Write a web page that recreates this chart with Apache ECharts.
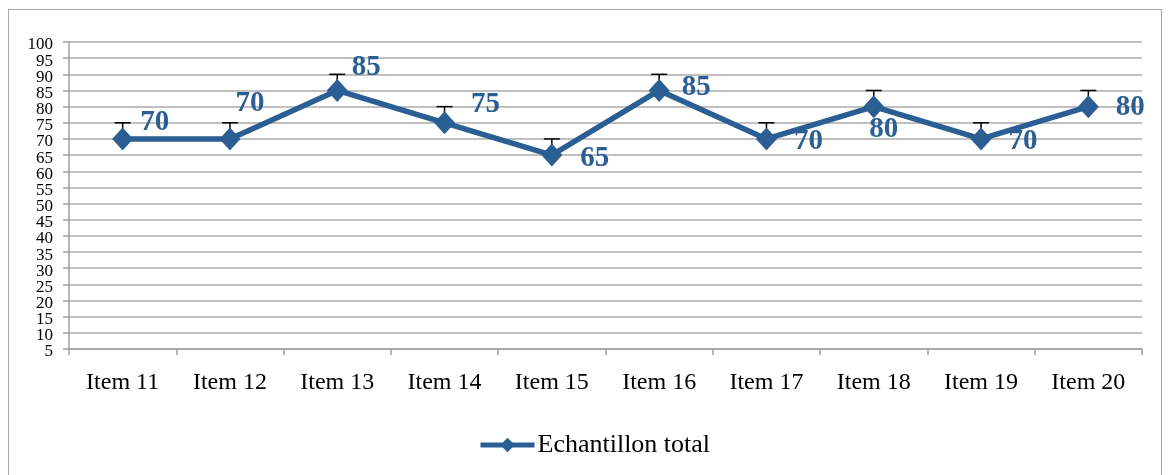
<!DOCTYPE html>
<html>
<head>
<meta charset="utf-8">
<script src="https://cdn.jsdelivr.net/npm/echarts@6/dist/echarts.min.js"></script>
<style>
  html, body { margin: 0; padding: 0; background: #ffffff; }
  #frame { position: absolute; left: 8px; top: 9px; width: 1154px; height: 480px; border: 1.5px solid #a9a9a9; box-sizing: border-box; }
  #chart { position: absolute; left: 0; top: 0; width: 1171px; height: 475px; }
</style>
</head>
<body>
<div id="frame"></div>
<div id="chart"></div>
<script>
// Categories and values
const categories = ['Item 11', 'Item 12', 'Item 13', 'Item 14', 'Item 15', 'Item 16', 'Item 17', 'Item 18', 'Item 19', 'Item 20'];
const totals = [70, 70, 85, 75, 65, 85, 70, 80, 70, 80];
const errorPlus = [5, 5, 5, 5, 5, 5, 5, 5, 5, 5];
const seriesName = 'Echantillon total';

// Value axis range
const yMin = 5;
const yMax = 100;
const yStep = 5;

// Label offsets (pixels from each marker centre)
const labelOffsets = [[32, -16], [20, -35], [29, -23], [41, -18], [43, 3], [37, -3], [42, 3], [10, 23], [42, 3], [42, 1]];

const BLUE = '#2b5e93';
const SERIF = '"Liberation Serif", "DejaVu Serif", serif';
const GRID_GREY = '#a0a0a0';

const chart = echarts.init(document.getElementById('chart'));

const lineData = totals.map((v, i) => ({
  value: v,
  label: {
    show: true,
    position: 'inside',
    offset: labelOffsets[i],
    align: 'center',
    verticalAlign: 'middle'
  }
}));

// The tick labels are packed tightly, so they are split over two
// overlaid value axes (multiples of 10 on one, the rest on the other)
// to keep every label visible.
function makeYAxis(evenTens, primary) {
  return {
    type: 'value',
    position: 'left',
    min: yMin,
    max: yMax,
    interval: yStep,
    axisLine: { show: primary, lineStyle: { color: GRID_GREY, width: 1.5 } },
    axisTick: { show: primary, length: 6, lineStyle: { color: GRID_GREY, width: 1.5 } },
    splitLine: { show: primary, lineStyle: { color: '#ababab', width: 1.5 } },
    axisLabel: {
      fontFamily: SERIF, fontSize: 17, color: '#000', margin: 16,
      lineHeight: 6, verticalAlign: 'top',
      showMinLabel: true, showMaxLabel: true,
      formatter: function (v) {
        return ((v % 10 === 0) === evenTens) ? String(v) : '';
      }
    }
  };
}

chart.setOption({
  animation: false,
  backgroundColor: 'transparent',
  grid: { left: 69, right: 29, top: 42, bottom: 126, containLabel: false },
  legend: {
    bottom: 17,
    left: 478,
    padding: 0,
    itemWidth: 54,
    itemHeight: 18,
    itemGap: 10,
    data: [{ name: seriesName }],
    lineStyle: { width: 5 },
    textStyle: { fontFamily: SERIF, fontSize: 26, color: '#000', padding: [0, 0, 0, -2] }
  },
  xAxis: {
    type: 'category',
    data: categories,
    boundaryGap: true,
    axisLine: { lineStyle: { color: GRID_GREY, width: 1.5 } },
    axisTick: { show: true, interval: 0, length: 6, lineStyle: { color: GRID_GREY, width: 1.5 } },
    axisLabel: { interval: 0, fontFamily: SERIF, fontSize: 24, color: '#000', margin: 22 }
  },
  yAxis: [makeYAxis(true, true), makeYAxis(false, false)],
  series: [
    {
      // upward error bars with a small cap
      type: 'custom',
      name: 'err',
      z: 1,
      silent: true,
      data: totals.map((v, i) => [i, v, v + errorPlus[i]]),
      renderItem: function (params, api) {
        const base = api.coord([api.value(0), api.value(1)]);
        const top = api.coord([api.value(0), api.value(2)]);
        const half = 8;
        const style = { stroke: '#000', lineWidth: 1.5 };
        return {
          type: 'group',
          children: [
            { type: 'line', shape: { x1: base[0], y1: base[1], x2: top[0], y2: top[1] }, style: style },
            { type: 'line', shape: { x1: top[0] - half, y1: top[1], x2: top[0] + half, y2: top[1] }, style: style }
          ]
        };
      }
    },
    {
      type: 'line',
      name: seriesName,
      z: 3,
      data: lineData,
      symbol: 'diamond',
      symbolSize: [21, 23],
      itemStyle: { color: BLUE },
      lineStyle: { color: BLUE, width: 5.5 },
      label: {
        fontFamily: SERIF,
        fontSize: 29,
        fontWeight: 'bold',
        color: BLUE
      }
    }
  ]
});
</script>
</body>
</html>
